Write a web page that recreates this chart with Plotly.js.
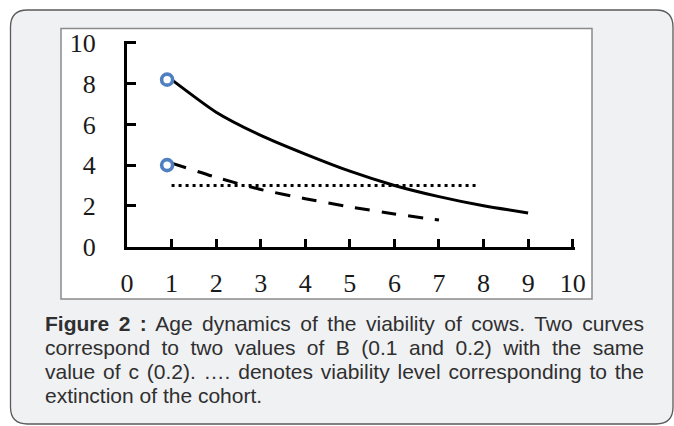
<!DOCTYPE html>
<html>
<head>
<meta charset="utf-8">
<script src="https://cdn.plot.ly/plotly-3.0.1.min.js"></script>
<style>
  html, body { margin: 0; padding: 0; background: #ffffff; }
  #chart { width: 674px; height: 426px; }
</style>
</head>
<body>
<div id="chart"></div>
<script>
// ---- data ----
const agesB01 = [1, 2, 3, 4, 5, 6, 7, 8, 9];
const viabilityB01 = [8.2, 6.6, 5.46, 4.54, 3.7, 3.0, 2.45, 2.0, 1.65];
const agesB02 = [1, 2, 3, 4, 5, 6, 7];
const viabilityB02 = [4.1, 3.4, 2.8, 2.35, 1.95, 1.6, 1.3];
const extinctionAges = [1, 7.9];
const extinctionLevel = [3, 3];
const startAges = [0.9, 0.9];
const startValues = [8.2, 4.0];
const xTickVals = [0, 1, 2, 3, 4, 5, 6, 7, 8, 9, 10];
const xTickText = ['0', '1', '2', '3', '4', '5', '6', '7', '8', '9', '10'];
const yTickVals = [0, 2, 4, 6, 8, 10];
const yTickText = ['0', '2', '4', '6', '8', '10'];
const captionLines = [
  '<b>Figure 2 :</b> Age dynamics of the viability of cows. Two curves',
  'correspond to two values of B (0.1 and 0.2) with the same',
  'value of c (0.2). …. denotes viability level corresponding to the',
  'extinction of the cohort.'
];

// ---- layout helpers (pixel -> paper) ----
const W = 674, H = 426;
const px = x => x / W;
const py = y => 1 - y / H;

function roundedRect(x0, y0, x1, y1, r) {
  const rx = r / W, ry = r / H;
  const X0 = px(x0), X1 = px(x1), Y0 = py(y0), Y1 = py(y1);
  return `M ${X0 + rx} ${Y0} L ${X1 - rx} ${Y0} Q ${X1} ${Y0} ${X1} ${Y0 - ry} ` +
         `L ${X1} ${Y1 + ry} Q ${X1} ${Y1} ${X1 - rx} ${Y1} ` +
         `L ${X0 + rx} ${Y1} Q ${X0} ${Y1} ${X0} ${Y1 + ry} ` +
         `L ${X0} ${Y0 - ry} Q ${X0} ${Y0} ${X0 + rx} ${Y0} Z`;
}

const traces = [
  { x: extinctionAges, y: extinctionLevel, mode: 'lines',
    line: { color: '#000', width: 3, dash: '3px,4px' }, hoverinfo: 'skip' },
  { x: agesB01, y: viabilityB01, mode: 'lines',
    line: { color: '#000', width: 3, shape: 'spline', smoothing: 0.6 } },
  { x: agesB02, y: viabilityB02, mode: 'lines',
    line: { color: '#000', width: 3, dash: '15px,12px', shape: 'spline', smoothing: 0.6 } },
  { x: startAges, y: startValues, mode: 'markers', xaxis: 'x2', yaxis: 'y2',
    marker: { symbol: 'circle', size: 11, color: '#ffffff',
              line: { color: '#4f7fc0', width: 3.6 } } }
];

const tickFont = { family: 'Liberation Serif, Times New Roman, serif', size: 26, color: '#1a1a1a' };
// axis scale: 0 at x=127px, 10 at x=572.7px ; 0 at y=246.5px, 10 at y=43px
const xMax = 10.05, yMax = 10.1;
const xDom = [px(127), px(127 + (572.7 - 127) * xMax / 10)];
const yDom = [py(246.5), py(246.5 - (246.5 - 43) * yMax / 10)];

const layout = {
  width: W, height: H,
  margin: { l: 0, r: 0, t: 0, b: 0 },
  paper_bgcolor: '#ffffff',
  plot_bgcolor: 'rgba(0,0,0,0)',
  showlegend: false,
  // main axes: lines and inside ticks
  xaxis: {
    domain: xDom, range: [0, xMax], anchor: 'y',
    showline: true, linecolor: '#000', linewidth: 3,
    ticks: 'inside', ticklen: 8, tickwidth: 3, tickcolor: '#000',
    tickvals: xTickVals, showticklabels: false,
    showgrid: false, zeroline: false, fixedrange: true
  },
  yaxis: {
    domain: yDom, range: [0, yMax], anchor: 'x',
    showline: true, linecolor: '#000', linewidth: 3,
    ticks: 'inside', ticklen: 9, tickwidth: 3, tickcolor: '#000',
    tickvals: yTickVals, showticklabels: false,
    showgrid: false, zeroline: false, fixedrange: true
  },
  // label axes: same scale, carry the tick labels
  xaxis2: {
    domain: xDom, range: [0, xMax], overlaying: 'x', anchor: 'y2', side: 'bottom',
    showline: false, ticks: 'outside', ticklen: 13, tickcolor: 'rgba(0,0,0,0)',
    tickvals: xTickVals, ticktext: xTickText, tickfont: tickFont,
    showgrid: false, zeroline: false, fixedrange: true
  },
  yaxis2: {
    domain: yDom, range: [0, yMax], overlaying: 'y', anchor: 'x2', side: 'left',
    showline: false, ticks: 'outside', ticklen: 25, tickcolor: 'rgba(0,0,0,0)',
    tickvals: yTickVals, ticktext: yTickText, tickfont: tickFont,
    showgrid: false, zeroline: false, fixedrange: true
  },
  shapes: [
    { type: 'path', xref: 'paper', yref: 'paper', layer: 'below',
      path: roundedRect(10.5, 10, 673, 424, 17),
      fillcolor: '#f0f1f3', line: { color: '#5a5a5a', width: 1.3 } },
    { type: 'rect', xref: 'paper', yref: 'paper', layer: 'below',
      x0: px(61), x1: px(592), y0: py(299), y1: py(28.5),
      fillcolor: '#ffffff', line: { color: '#8a8a8a', width: 1.5 } }
  ],
  annotations: captionLines.map((t, i) => ({
    text: t, xref: 'paper', yref: 'paper',
    x: px(43), xanchor: 'left', align: 'left',
    y: py(323 + i * 24.3), yanchor: 'middle',
    showarrow: false,
    font: { family: 'Liberation Sans, Arial, sans-serif', size: 21, color: '#2f2f2f' }
  }))
};

Plotly.newPlot('chart', traces, layout, { displayModeBar: false, staticPlot: true }).then(() => {
  // justify the first three caption lines like the original paragraph
  const targetRight = 642;
  const texts = document.querySelectorAll('#chart .annotation-text');
  texts.forEach((el, i) => {
    if (i > 2) return;
    const bb = el.getBBox();
    const spaces = (el.textContent.match(/ /g) || []).length;
    const extra = (targetRight - 43) - bb.width;
    if (spaces > 0 && extra > 0) {
      el.setAttribute('word-spacing', (extra / spaces).toFixed(2) + 'px');
    }
  });
});
</script>
</body>
</html>
